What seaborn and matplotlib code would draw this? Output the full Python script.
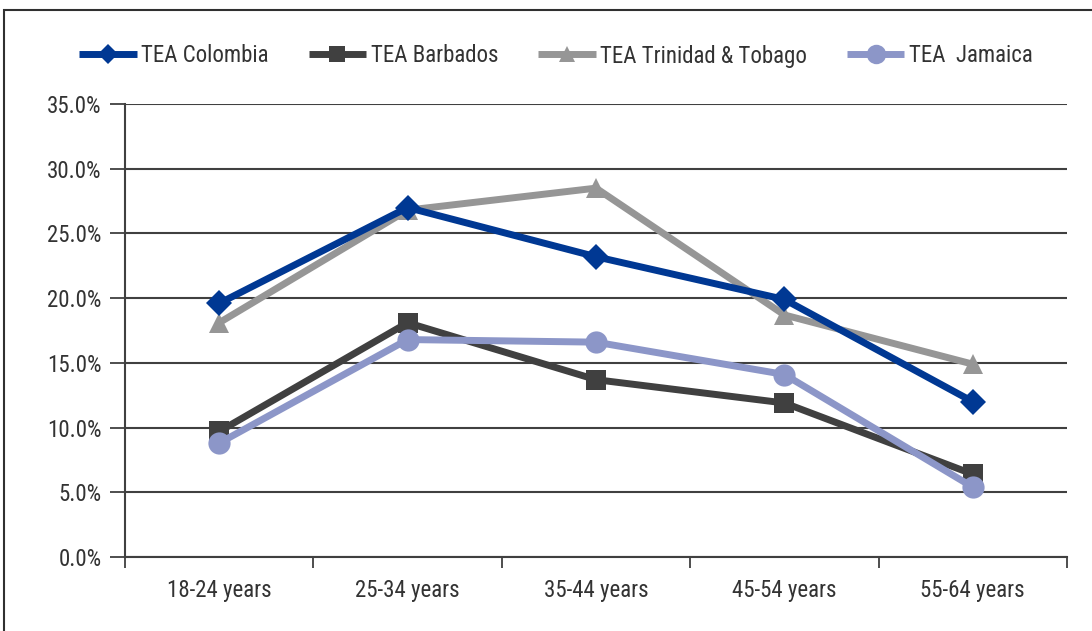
import matplotlib
matplotlib.use("Agg")
import matplotlib.pyplot as plt
from matplotlib.patches import Rectangle
from matplotlib.ticker import FixedLocator, FuncFormatter
import seaborn as sns
import pandas as pd

# Age groups and TEA rates (%) per country
age_groups = ["18-24 years", "25-34 years", "35-44 years", "45-54 years", "55-64 years"]
tea_colombia = [19.6, 27.0, 23.2, 19.9, 12.0]
tea_barbados = [9.7, 18.1, 13.7, 11.9, 6.4]
tea_trinidad = [18.1, 26.8, 28.5, 18.7, 14.9]
tea_jamaica = [8.8, 16.8, 16.6, 14.1, 5.4]

series_names = ["TEA Colombia", "TEA Barbados", "TEA Trinidad & Tobago", "TEA  Jamaica"]
series_values = [tea_colombia, tea_barbados, tea_trinidad, tea_jamaica]
y_ticks = [0, 5, 10, 15, 20, 25, 30, 35]

styles = {
    "TEA Colombia": dict(color="#003893", marker="D", ms=13, lms=10, z=6),
    "TEA Barbados": dict(color="#404040", marker="s", ms=14, lms=12, z=4),
    "TEA Trinidad & Tobago": dict(color="#969696", marker="^", ms=15, lms=12, z=3),
    "TEA  Jamaica": dict(color="#8C96C8", marker="o", ms=16, lms=14, z=5),
}

sns.set_theme(style="white")
plt.rcParams["font.family"] = ["Roboto Condensed", "DejaVu Sans"]
text_color = "#333333"
fs = 16.5

fig = plt.figure(figsize=(10.92, 6.31), dpi=100)
ax = fig.add_axes([125 / 1092, 1 - 557 / 631, (1067 - 125) / 1092, (557 - 104) / 631])

frames = []
for name, vals in zip(series_names, series_values):
    frames.append(pd.DataFrame({"pos": range(len(age_groups)), "rate": vals, "series": name}))
df = pd.concat(frames, ignore_index=True)

handles = {}
for name in series_names:
    st = styles[name]
    sub = df[df["series"] == name]
    sns.lineplot(data=sub, x="pos", y="rate", ax=ax, color=st["color"], lw=5,
                 marker=st["marker"], markersize=st["ms"], markeredgewidth=0,
                 zorder=st["z"], legend=False, sort=False)
    handles[name] = ax.lines[-1]

ax.set_xlim(-0.5, len(age_groups) - 0.5)
ax.set_ylim(0, 35)

# Horizontal gridlines at every tick
for yv in y_ticks:
    ax.axhline(yv, color="#404040", lw=1.5, zorder=1)

ax.yaxis.set_major_locator(FixedLocator(y_ticks))
ax.yaxis.set_major_formatter(FuncFormatter(lambda v, p: f"{v:.1f}%"))
ax.set_xticks(range(len(age_groups)))
ax.set_xticklabels(age_groups)
ax.xaxis.set_minor_locator(FixedLocator([i - 0.5 for i in range(len(age_groups) + 1)]))
ax.tick_params(axis="x", which="major", length=0, pad=16, labelsize=fs, labelcolor=text_color)
ax.tick_params(axis="x", which="minor", length=8, width=1.3, color="#404040", direction="out", bottom=True)
ax.tick_params(axis="y", which="major", length=11, width=1.3, color="#404040", direction="out",
               left=True, pad=6, labelsize=fs, labelcolor=text_color)
ax.set_xlabel("")
ax.set_ylabel("")

for side in ["top", "right"]:
    ax.spines[side].set_visible(False)
for side in ["left", "bottom"]:
    ax.spines[side].set_color("#404040")
    ax.spines[side].set_linewidth(1.5)

# Outer chart frame
fig.patches.append(Rectangle((4 / 1092, -0.05), 1.1, 1 - 10 / 631 + 0.05,
                             transform=fig.transFigure, fill=False,
                             edgecolor="#303030", lw=1.5))

leg = fig.legend([handles[n] for n in series_names], series_names, ncol=4,
                 loc="center", bbox_to_anchor=(556 / 1092, 1 - 56 / 631),
                 frameon=False, fontsize=fs, handlelength=2.5, handletextpad=0.2,
                 columnspacing=1.75, labelcolor=text_color)
for h, name in zip(leg.legend_handles, series_names):
    h.set_markersize(styles[name]["lms"])
    h.set_solid_capstyle("butt")

fig.savefig("out.png", dpi=100)
